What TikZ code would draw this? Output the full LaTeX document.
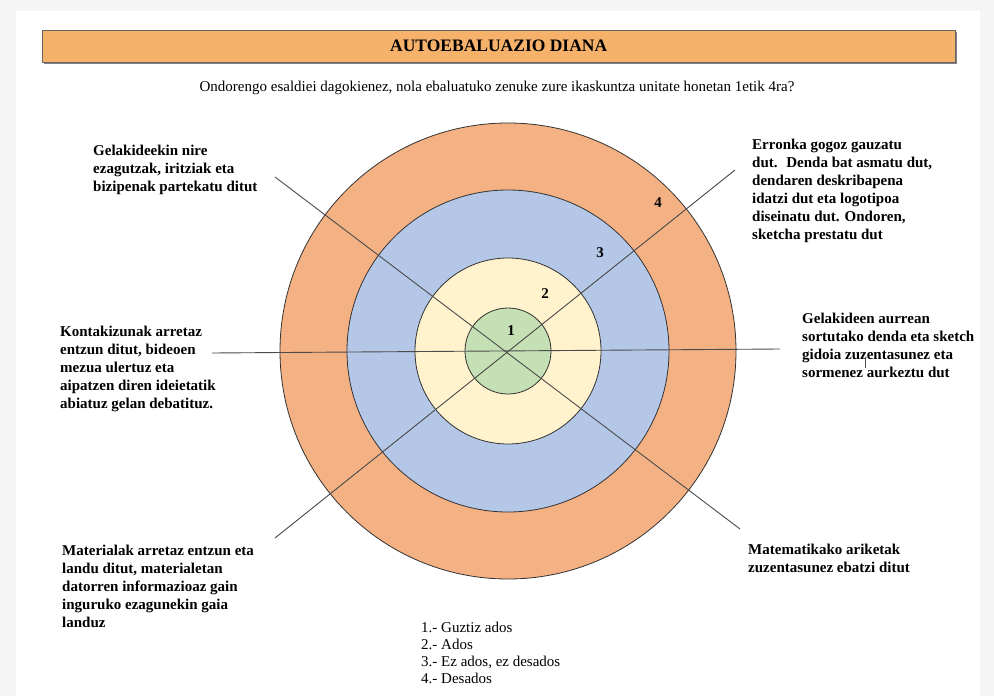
\documentclass[tikz,border=0pt]{standalone}
\usepackage{fontspec}
\setmainfont{Liberation Serif}
\definecolor{titleorange}{HTML}{F6B26B}
\definecolor{ringorange}{HTML}{F4B183}
\definecolor{ringblue}{HTML}{B4C7E7}
\definecolor{ringyellow}{HTML}{FFF2CC}
\definecolor{ringgreen}{HTML}{C5E0B4}
\definecolor{pagegray}{HTML}{F5F5F5}
\begin{document}
\begin{tikzpicture}[x=1pt,y=-1pt,
  ring/.style={circle, draw=black!80, line width=0.8pt, inner sep=0pt},
  spoke/.style={draw=black!70, line width=0.9pt},
  lbl/.style={font=\fontsize{15}{18}\selectfont\bfseries, align=left, inner sep=0pt, anchor=north west},
  legendtxt/.style={font=\fontsize{15}{16.8}\selectfont, align=left, inner sep=0pt, anchor=north west},
  num/.style={font=\fontsize{15}{18}\selectfont\bfseries, inner sep=0pt}]
\useasboundingbox (0,0) rectangle (994,696);
\fill[pagegray] (0,0) rectangle (994,696);
\fill[white] (16,11) rectangle (980,696);
% title
\fill[black!50] (43.5,31.5) rectangle (956.5,63.5);
\node[draw=black!60, fill=titleorange, minimum width=913pt, minimum height=32pt, anchor=north west, inner sep=0pt] (title) at (42,30) {\fontsize{17.5}{19}\selectfont\bfseries AUTOEBALUAZIO DIANA};
\node[font=\fontsize{15}{17}\selectfont, inner sep=0pt] (sub) at (497,88) {Ondorengo esaldiei dagokienez, nola ebaluatuko zenuke zure ikaskuntza unitate honetan 1etik 4ra?};
% target
\coordinate (c) at (508,351);
\node[ring, fill=ringorange, minimum size=456pt] (r4) at (c) {};
\node[ring, fill=ringblue, minimum size=322pt] (r3) at (c) {};
\node[ring, fill=ringyellow, minimum size=186pt] (r2) at (c) {};
\node[ring, fill=ringgreen, minimum size=86pt] (r1) at (c) {};
% spokes
\coordinate (a1) at (212,353); \coordinate (b1) at (780,349);
\coordinate (a2) at (275,177); \coordinate (b2) at (740,529);
\coordinate (a3) at (735,170); \coordinate (b3) at (275,538);
\draw[spoke] (a1) -- (b1);
\draw[spoke] (a2) -- (b2);
\draw[spoke] (a3) -- (b3);
% numbers
\node[num] (n1) at (511,331) {1};
\node[num] (n2) at (545,294) {2};
\node[num] (n3) at (600,253) {3};
\node[num] (n4) at (658,203) {4};
% labels
\node[lbl] (t1) at (93,145) {Gelakideekin nire\\ezagutzak, iritziak eta\\bizipenak partekatu ditut};
\node[lbl] (t2) at (752,139) {Erronka gogoz gauzatu\\dut.~ Denda bat asmatu dut,\\dendaren deskribapena\\idatzi dut eta logotipoa\\diseinatu dut. Ondoren,\\sketcha prestatu dut};
\node[lbl] (t3) at (60,326) {Kontakizunak arretaz\\entzun ditut, bideoen\\mezua ulertuz eta\\aipatzen diren ideietatik\\abiatuz gelan debatituz.};
\node[lbl] (t4) at (802,313) {Gelakideen aurrean\\sortutako denda eta sketch\\gidoia zuzentasunez eta\\sormenez aurkeztu dut};
\coordinate (k1) at (865,357); \coordinate (k2) at (865,368);
\draw[black!70, line width=0.6pt] (k1) -- (k2);
\node[lbl] (t5) at (62,545) {Materialak arretaz entzun eta\\landu ditut, materialetan\\datorren informazioaz gain\\inguruko ezagunekin gaia\\landuz};
\node[lbl] (t6) at (748,544) {Matematikako ariketak\\zuzentasunez ebatzi ditut};
\node[legendtxt] (leg) at (421,622) {1.- Guztiz ados\\2.- Ados\\3.- Ez ados, ez desados\\4.- Desados};
\end{tikzpicture}
\end{document}
